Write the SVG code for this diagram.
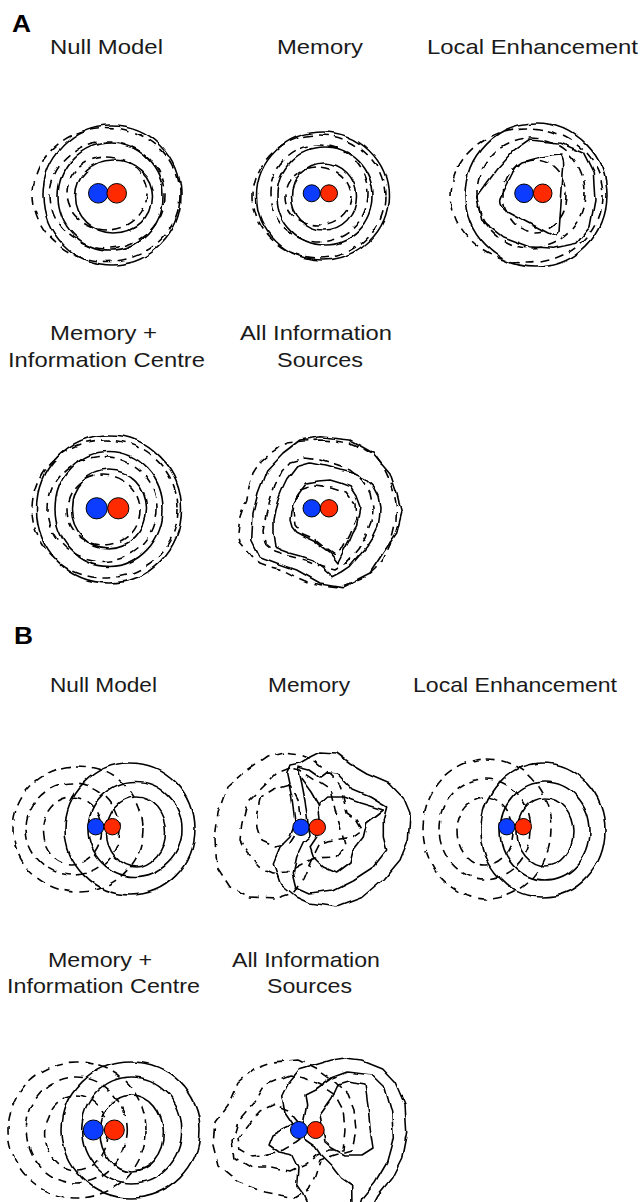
<svg xmlns="http://www.w3.org/2000/svg" width="644" height="1202" viewBox="0 0 644 1202">
  <defs>
    <style>
      .lbl { font-family: "Liberation Sans", Arial, Helvetica, sans-serif; font-size: 21px; fill: #1a1a1a; }
      .pan { font-family: "Liberation Sans", Arial, Helvetica, sans-serif; font-size: 24px; font-weight: bold; fill: #000; }
      .s { fill: none; stroke: #000; stroke-width: 1.6; stroke-linejoin: round; }
      .d { fill: none; stroke: #000; stroke-width: 1.6; stroke-dasharray: 9 6; stroke-linejoin: round; }
      .blue { fill: #0c3cff; stroke: #000; stroke-width: 1; }
      .red { fill: #ff2a00; stroke: #000; stroke-width: 1; }
    </style>
    <!-- slight irregularity for the contour lines -->
    <filter id="wob" x="-15%" y="-15%" width="130%" height="130%">
      <feTurbulence type="fractalNoise" baseFrequency="0.05" numOctaves="2" seed="4" result="n"/>
      <feDisplacementMap in="SourceGraphic" in2="n" scale="5" xChannelSelector="R" yChannelSelector="G"/>
    </filter>
  </defs>
  <rect width="644" height="1202" fill="#fff"/>

  <!-- ============ Panel A ============ -->
  <text class="pan" x="12" y="32" textLength="19" lengthAdjust="spacingAndGlyphs">A</text>
  <text class="lbl" x="50" y="54" textLength="113" lengthAdjust="spacingAndGlyphs">Null Model</text>
  <text class="lbl" x="277" y="54" textLength="86" lengthAdjust="spacingAndGlyphs">Memory</text>
  <text class="lbl" x="427" y="54" textLength="211" lengthAdjust="spacingAndGlyphs">Local Enhancement</text>
  <text class="lbl" x="50" y="340" textLength="107" lengthAdjust="spacingAndGlyphs">Memory +</text>
  <text class="lbl" x="8" y="367" textLength="197" lengthAdjust="spacingAndGlyphs">Information Centre</text>
  <text class="lbl" x="240" y="340" textLength="152" lengthAdjust="spacingAndGlyphs">All Information</text>
  <text class="lbl" x="277" y="367" textLength="86" lengthAdjust="spacingAndGlyphs">Sources</text>

  <g id="a-null">
    <g filter="url(#wob)">
      <ellipse class="s" cx="112" cy="195" rx="69" ry="70"/>
      <ellipse class="s" cx="110.5" cy="196.5" rx="52.5" ry="53.5"/>
      <ellipse class="s" cx="114" cy="196.5" rx="38.5" ry="36.5"/>
      <ellipse class="d" cx="106.5" cy="194.5" rx="73.5" ry="67"/>
      <ellipse class="d" cx="107.5" cy="195" rx="57.5" ry="53"/>
      <ellipse class="d" cx="107" cy="193.5" rx="40" ry="36.5"/>
    </g>
    <circle class="blue" cx="98.3" cy="193.3" r="9.8"/>
    <circle class="red" cx="116.7" cy="193.3" r="9.8"/>
  </g>

  <g id="a-memory">
    <g filter="url(#wob)">
      <ellipse class="s" cx="322.5" cy="196" rx="66" ry="64"/>
      <ellipse class="s" cx="325" cy="196" rx="48" ry="49"/>
      <ellipse class="s" cx="324" cy="196.5" rx="32.5" ry="33.5"/>
      <ellipse class="d" cx="319" cy="196.5" rx="66" ry="61.5"/>
      <ellipse class="d" cx="319" cy="193.5" rx="49" ry="48.5"/>
      <ellipse class="d" cx="318" cy="196" rx="33" ry="29"/>
    </g>
    <circle class="blue" cx="311.7" cy="193.3" r="8.5"/>
    <circle class="red" cx="329" cy="193.3" r="8.5"/>
  </g>

  <g id="a-local">
    <g filter="url(#wob)">
      <ellipse class="s" cx="536" cy="195" rx="71" ry="72"/>
      <path class="s" d="M530,140 L560,143.3 583.3,153.3 593.3,173.3 595,200 590,226.7 576.7,243.3 553.3,248.3 530,246.7 503.3,236.7 481.7,220 476.7,196.7 481.7,190 496.7,170 513.3,151.7 Z"/>
      <path class="s" d="M522,162 Q545,155 561,154 Q565,158 563,175 L559,232 Q556,238 548,233 L505,210 Q497,204 501,197 L512,175 Q515,166 522,162 Z"/>
      <ellipse class="d" cx="527" cy="195.5" rx="76" ry="67.5"/>
      <ellipse class="d" cx="531" cy="193" rx="54" ry="55"/>
      <ellipse class="d" cx="535" cy="196" rx="32" ry="36"/>
    </g>
    <circle class="blue" cx="524" cy="193.3" r="9.3"/>
    <circle class="red" cx="542.7" cy="193.3" r="9.3"/>
  </g>

  <g id="a-memory-ic">
    <g filter="url(#wob)">
      <ellipse class="s" cx="109" cy="509" rx="72.5" ry="74"/>
      <ellipse class="s" cx="109" cy="509" rx="54" ry="57.5"/>
      <ellipse class="s" cx="109" cy="509" rx="37.5" ry="39"/>
      <ellipse class="d" cx="105" cy="509" rx="73" ry="69"/>
      <ellipse class="d" cx="102.5" cy="509" rx="54.5" ry="52.5"/>
      <ellipse class="d" cx="103.5" cy="510" rx="36.5" ry="35"/>
    </g>
    <circle class="blue" cx="96.7" cy="508.3" r="10.6"/>
    <circle class="red" cx="118.3" cy="508.3" r="10.6"/>
  </g>

  <g id="a-all">
    <g filter="url(#wob)">
      <path class="s" d="M320,436.7 L350,440 373,453 390,473 396.7,493 401.7,513 396.7,533 383,553 370,573 343,586.7 320,583 296.7,570 276.7,563 260,556.7 251.7,540 253,513 258,493 266.7,470 283,453 300,440 Z"/>
      <path class="s" d="M296.7,466.7 L310,463 325,466 340,470 353,473 365,479 373,486.7 378,496 380,506.7 379.5,517 378,526.7 373,537 366.7,546.7 358,557 350,566.7 342,572 333,576.7 323,568 313,560 301,556 290,553 282,550 275,546.7 273,533 273,520 275,510 278,500 282,490 286.7,480 Z"/>
      <path class="s" d="M306.7,483 L318,481 330,480 340,483 350,486.7 356,496 360,506.7 358,517 356.7,526.7 353,533 350,540 344,551 338,563 334,558 330,553 323,548 316.7,543 306,538 296.7,533 292,527 290,520 291,511 293,503 300,492 Z"/>
      <path class="d" d="M320,440 L335,441 350,443 364,449 376.7,456.7 384,467 390,480 394,493 396.7,506.7 396,520 393,533 389,547 383,560 375,569 366.7,576.7 352,583 336.7,586.7 323,585 310,583 296,577 283,570 271,567 260,563 252,557 246.7,550 240,542 238,533 239,525 240,516.7 243,508 246.7,500 249,487 253,473 260,462 270,453 278,447 286.7,443 303,441 Z"/>
      <path class="d" d="M290,462 L305,458 320,460 335,465 350,470 362,480 370,492 373,507 372,522 366,537 358,550 348,562 335,570 320,566 305,560 290,556 275,551 265,543 263,530 266,515 270,500 275,485 282,471 Z"/>
      <path class="d" d="M300,490 L315,485 330,487 345,492 355,505 356,520 350,535 343,548 335,555 325,548 315,540 303,535 295,525 293,510 295,498 Z"/>
    </g>
    <circle class="blue" cx="311.7" cy="508.3" r="8.7"/>
    <circle class="red" cx="329" cy="508.3" r="8.7"/>
  </g>

  <!-- ============ Panel B ============ -->
  <text class="pan" x="14" y="644" textLength="19" lengthAdjust="spacingAndGlyphs">B</text>
  <text class="lbl" x="50" y="692" textLength="107" lengthAdjust="spacingAndGlyphs">Null Model</text>
  <text class="lbl" x="268" y="692" textLength="82" lengthAdjust="spacingAndGlyphs">Memory</text>
  <text class="lbl" x="413" y="692" textLength="204" lengthAdjust="spacingAndGlyphs">Local Enhancement</text>
  <text class="lbl" x="48" y="967" textLength="104" lengthAdjust="spacingAndGlyphs">Memory +</text>
  <text class="lbl" x="7" y="993" textLength="193" lengthAdjust="spacingAndGlyphs">Information Centre</text>
  <text class="lbl" x="232" y="967" textLength="148" lengthAdjust="spacingAndGlyphs">All Information</text>
  <text class="lbl" x="267" y="993" textLength="85" lengthAdjust="spacingAndGlyphs">Sources</text>

  <g id="b-null">
    <g filter="url(#wob)">
      <ellipse class="s" cx="130" cy="829" rx="65" ry="66"/>
      <ellipse class="s" cx="135" cy="829" rx="47" ry="47.5"/>
      <ellipse class="s" cx="136" cy="832" rx="29.5" ry="35"/>
      <ellipse class="d" cx="78" cy="829" rx="65" ry="63"/>
      <ellipse class="d" cx="73" cy="829" rx="47" ry="46"/>
      <ellipse class="d" cx="72" cy="831" rx="29.5" ry="34"/>
    </g>
    <circle class="blue" cx="95.7" cy="826.7" r="8.2"/>
    <circle class="red" cx="112.3" cy="826.7" r="8.2"/>
  </g>

  <g id="b-memory">
    <g filter="url(#wob)">
      <path class="s" d="M320,752 L336.7,753 350,763 366.7,773 390,783 403.3,797 410,813 408.3,840 400,860 383.3,880 363.3,897 336.7,907 310,903 296.7,897 280,883 273.3,863 280,847 290,837 295,823 291.7,797 286.7,773 290,765 300,763 310,757 Z"/>
      <path class="s" d="M298,767 L310,770 320,777 326.7,772 336.7,773 353,790 370,797 386.7,807 383.3,820 383.3,837 386.7,850 373.3,867 353.3,880 333.3,890 310,893 296.7,887 293.3,873 296.7,857 303.3,843 310,837 307,815 305,800 301.7,783 Z"/>
      <path class="s" d="M320,803 L326.7,797 343.3,797 360,803 383.3,810 366.7,823 363.3,837 353.3,850 350,863 336.7,873 323.3,867 313.3,857 310,847 316.7,837 320,827 318.3,813 Z"/>
      <path class="s" d="M301.7,778 L312,792 320,806"/>
      <path class="d" d="M283,752 L267,756 243,773 227,787 218,813 215,840 217,867 230,887 250,897 277,898 293,893 303,880 310,863 320,843 333,840 353,837 363,830 357,820 347,813 340,785 325,770 310,758 300,754 Z"/>
      <path class="d" d="M290,768 L277,773 260,790 247,803 242,823 240,840 247,853 260,867 273,873 288,872 300,865 315,858 337,857 345,845 340,826 335,810 330,790 315,780 300,770 Z"/>
      <path class="d" d="M290,785 L273,790 260,798 256.7,813 258,828 262,840 275,846 290,843 297,832 300,818 298,800 Z"/>
    </g>
    <circle class="blue" cx="301" cy="827.3" r="8.2"/>
    <circle class="red" cx="317.3" cy="827.3" r="8.2"/>
  </g>

  <g id="b-local">
    <g filter="url(#wob)">
      <ellipse class="s" cx="543" cy="830" rx="62" ry="67"/>
      <ellipse class="s" cx="545" cy="831" rx="45" ry="49"/>
      <ellipse class="s" cx="545" cy="832" rx="28" ry="34"/>
      <ellipse class="d" cx="487" cy="829" rx="64" ry="70"/>
      <ellipse class="d" cx="485" cy="829" rx="46" ry="50"/>
      <ellipse class="d" cx="485" cy="831" rx="28" ry="34"/>
    </g>
    <circle class="blue" cx="506.7" cy="826.7" r="8.2"/>
    <circle class="red" cx="523.3" cy="826.7" r="8.2"/>
  </g>

  <g id="b-memory-ic">
    <g filter="url(#wob)">
      <ellipse class="s" cx="131" cy="1130" rx="69" ry="68"/>
      <ellipse class="s" cx="131.7" cy="1130" rx="50" ry="53"/>
      <ellipse class="s" cx="131.7" cy="1133" rx="31.7" ry="38"/>
      <ellipse class="d" cx="77" cy="1130" rx="69" ry="68"/>
      <ellipse class="d" cx="76.3" cy="1130" rx="50" ry="53"/>
      <ellipse class="d" cx="76.3" cy="1133" rx="31.7" ry="38"/>
    </g>
    <circle class="blue" cx="93.3" cy="1130" r="10"/>
    <circle class="red" cx="114.3" cy="1130" r="10"/>
  </g>

  <g id="b-all">
    <g filter="url(#wob)">
      <path class="s" d="M345,1058 L361.7,1060 381.7,1068 395,1082 405,1105 406.7,1132 401.7,1158 391.7,1178 378,1195 370,1210 310,1210 301.7,1192 296.7,1185 298,1168 291.7,1155 278,1152 268,1145 272,1135 285,1128 293,1124 285,1112 281.7,1095 288,1082 298,1070 315,1065 331.7,1060 Z"/>
      <path class="s" d="M348,1072 L371.7,1075 385,1088 391.7,1112 393.3,1138 386.7,1162 375,1182 362,1198 358,1210 352,1210 351.7,1185 341.7,1178 331.7,1165 321.7,1155 315,1145 305,1138 303,1125 306.7,1105 305,1095 315,1090 331.7,1078 Z"/>
      <path class="s" d="M338,1085 L348,1082 365,1085 368,1105 370,1128 373,1148 362,1155 345,1155 332,1148 325,1142 322,1125 320,1115 325,1108 332,1098 Z"/>
      <path class="d" d="M298,1060 L272,1062 255,1068 238,1082 228,1105 215,1122 213,1145 218,1165 238,1182 265,1192 295,1198 308,1190 315,1175 320,1160 335,1155 352,1150 356,1130 354,1110 348,1095 335,1082 318,1070 Z"/>
      <path class="d" d="M290,1075 L265,1085 255,1102 238,1122 232,1142 235,1158 252,1168 272,1168 290,1172 305,1165 318,1155 330,1150 343,1150 345,1130 343,1110 335,1095 320,1085 305,1078 Z"/>
      <path class="d" d="M275,1105 L260,1112 248,1125 238,1138 240,1150 250,1156 265,1155 282,1150 296,1142 305,1135 298,1122 288,1110 Z"/>
    </g>
    <circle class="blue" cx="299" cy="1130" r="8.5"/>
    <circle class="red" cx="315.7" cy="1130" r="8.5"/>
  </g>
</svg>
